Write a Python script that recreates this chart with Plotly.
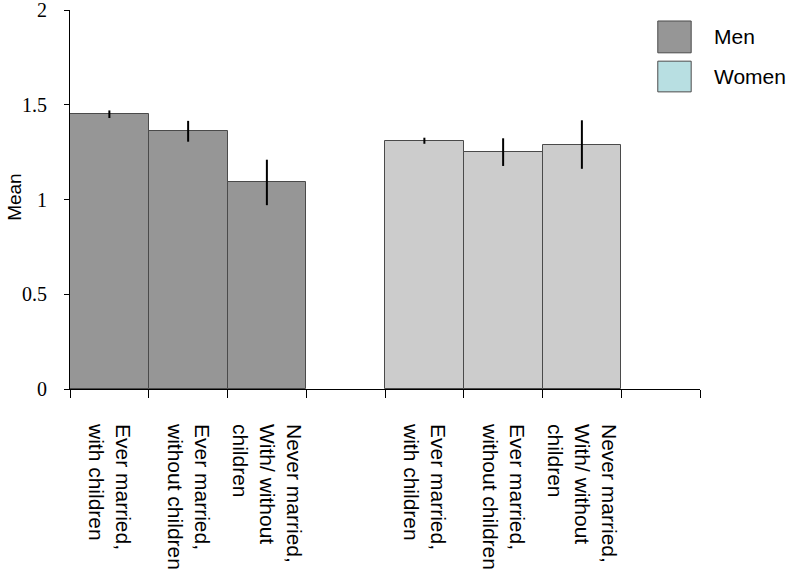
import plotly.graph_objects as go

# ---- data ----
categories = ["Ever married,<br>with children",
              "Ever married,<br>without children",
              "Never married,<br>With/ without<br>children"]
groups = ["Men", "Women"]
men_means = [1.45, 1.36, 1.09]
men_err = [0.02, 0.055, 0.12]
women_means = [1.31, 1.25, 1.29]
women_err = [0.016, 0.073, 0.128]
y_ticks = [0, 0.5, 1, 1.5, 2]
y_ticktext = ["0", "0.5", "1", "1.5", "2"]
y_title = "Mean"

# slot positions: men in slots 0-2, gap slot 3, women in slots 4-6, gap slot 7
n = len(categories)
men_x = list(range(n))
women_x = [i + n + 1 for i in range(n)]
n_slots = 2 * (n + 1)

bar_colors = {"Men": "#969696", "Women": "#cccccc"}
legend_colors = {"Men": "#969696", "Women": "#b8dfe2"}
edge = "#4a4a4a"

fig = go.Figure()
fig.add_trace(go.Bar(
    x=men_x, y=men_means, width=1.0, name="Men", showlegend=False,
    marker=dict(color=bar_colors["Men"], line=dict(color=edge, width=1)),
    error_y=dict(type="data", array=men_err, visible=True, color="black",
                 thickness=2, width=0),
))
fig.add_trace(go.Bar(
    x=women_x, y=women_means, width=1.0, name="Women", showlegend=False,
    marker=dict(color=bar_colors["Women"], line=dict(color=edge, width=1)),
    error_y=dict(type="data", array=women_err, visible=True, color="black",
                 thickness=2, width=0),
))
# invisible trace to carry the label axis
fig.add_trace(go.Scatter(x=[-0.5, n_slots - 0.5], y=[0, 0], xaxis="x2",
                         mode="markers", marker=dict(opacity=0),
                         showlegend=False, hoverinfo="skip"))

xr = [-0.5, n_slots - 0.5]
boundaries = [b - 0.5 for b in range(n_slots + 1)]

fig.update_layout(
    width=800, height=576,
    margin=dict(l=70, r=100, t=10, b=187, pad=0, autoexpand=False),
    paper_bgcolor="white", plot_bgcolor="white",
    bargap=0,
    showlegend=False,
    xaxis=dict(range=xr, tickvals=boundaries, ticktext=[""] * len(boundaries),
               ticks="outside", ticklen=8, tickcolor="black", tickwidth=1,
               showline=True, linecolor="black", linewidth=1, automargin=False,
               showgrid=False, zeroline=False),
    xaxis2=dict(range=xr, overlaying="x", anchor="y", side="bottom",
                tickvals=men_x + women_x, ticktext=categories + categories,
                tickangle=90, ticks="", ticklabelstandoff=34, automargin=False,
                ticklabeloverflow="allow",
                tickfont=dict(family="Liberation Sans", size=21, color="black"),
                showline=False, showgrid=False, zeroline=False),
    yaxis=dict(range=[0, 2], tickvals=y_ticks, ticktext=y_ticktext,
               ticks="outside", ticklen=5, tickcolor="black", tickwidth=1,
               ticklabelstandoff=13, ticklabeloverflow="allow", automargin=False,
               tickfont=dict(family="Liberation Serif", size=20, color="black"),
               showline=True, linecolor="black", linewidth=1,
               showgrid=False, zeroline=False),
)

# y-axis title
fig.add_annotation(xref="paper", yref="paper", x=-0.0873, y=0.507,
                   text=y_title, textangle=-90, showarrow=False,
                   xanchor="center", yanchor="middle",
                   font=dict(family="Liberation Sans", size=19, color="black"))

# legend drawn as boxes + labels
leg_items = [("Men", 0.971, 0.887), ("Women", 0.865, 0.784)]
for name, y1, y0 in leg_items:
    fig.add_shape(type="rect", xref="paper", yref="paper",
                  x0=0.933, x1=0.986, y0=y0, y1=y1,
                  fillcolor=legend_colors[name], line=dict(color=edge, width=1))
    fig.add_annotation(xref="paper", yref="paper", x=1.019, y=(y0 + y1) / 2,
                       text=name, showarrow=False, xanchor="left", yanchor="middle",
                       font=dict(family="Liberation Sans", size=21, color="black"))

fig.write_html("out.html", config={"displayModeBar": False},
               post_script="document.body.style.margin='0';document.body.style.padding='0';")
